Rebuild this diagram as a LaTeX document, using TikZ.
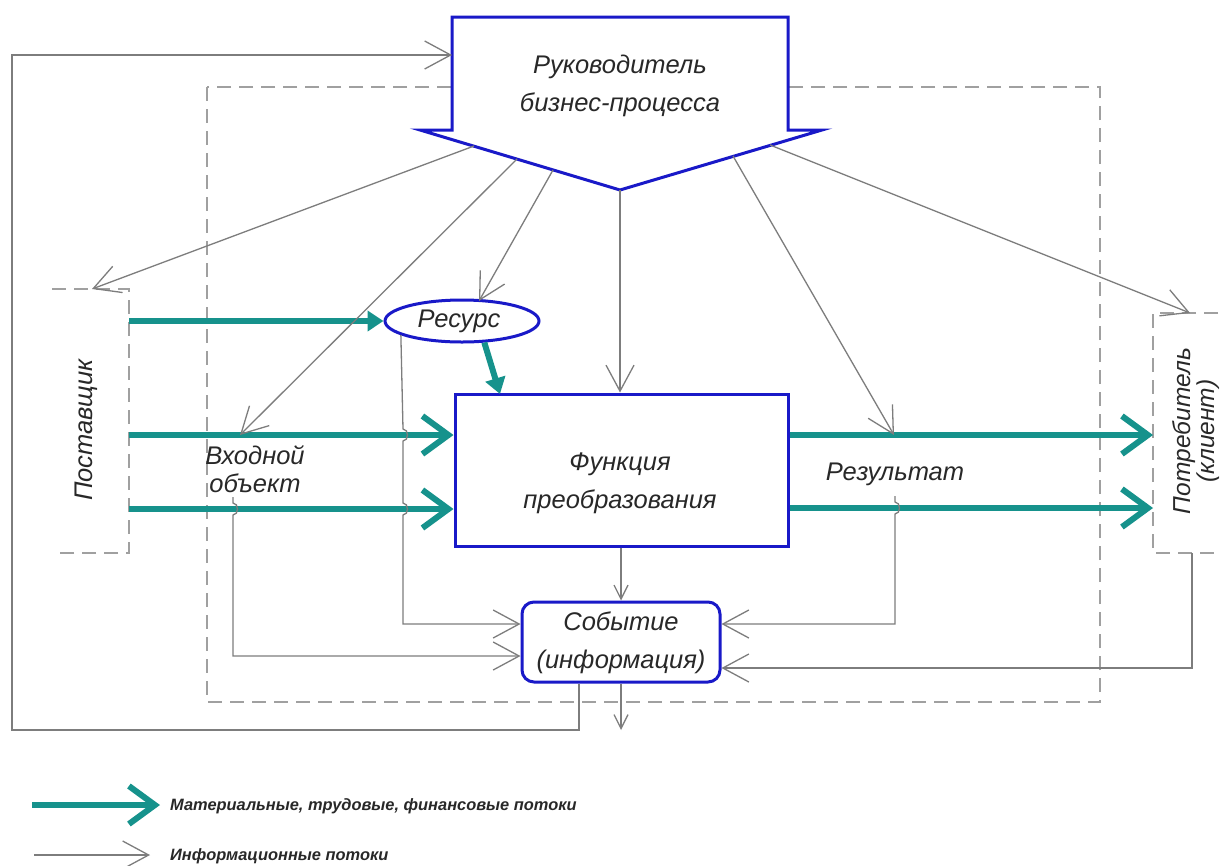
\documentclass[tikz,border=0pt]{standalone}
\usepackage{fontspec}
\setmainfont{Liberation Sans}
\usetikzlibrary{arrows.meta,shapes.geometric}
\definecolor{tealf}{RGB}{22,146,140}
\definecolor{bord}{RGB}{25,25,200}
\definecolor{info}{RGB}{125,125,125}
\definecolor{dsh}{RGB}{160,160,160}
\definecolor{ink}{RGB}{40,40,40}
\begin{document}
\begin{tikzpicture}[x=1pt,y=-1pt,
  txt/.style={font=\fontsize{25.5}{38}\selectfont\itshape, align=center, text=ink, inner sep=0pt},
  legtxt/.style={font=\fontsize{16.4}{18}\selectfont\bfseries\itshape, text=ink, anchor=west, inner sep=0pt},
  flow/.style={draw=tealf, line width=6pt, -{Straight Barb[length=26pt,width=38pt]}},
  flowsm/.style={draw=tealf, line width=6pt, -{Triangle[length=16pt,width=20pt]}},
  inf/.style={draw=info, line width=1.3pt, -{Straight Barb[length=26pt,width=28pt]}},
  infsm/.style={draw=info, line width=1.3pt, -{Straight Barb[length=14pt,width=14pt]}},
  dashbox/.style={draw=dsh, line width=1.5pt, dash pattern=on 14pt off 8pt},
  bluebox/.style={draw=bord, line width=3pt, fill=white}
]
\useasboundingbox (0,0) rectangle (1222,865);
\fill[white] (0,0) rectangle (1222,865);

% big dashed process boundary
\draw[dashbox] (207,87) rectangle (1100,702);

% supplier and consumer boxes
\draw[dashbox] (52,289) -- (129,289) -- (129,553) -- (52,553);
\draw[dashbox] (1240,313) -- (1153,313) -- (1153,553) -- (1240,553);
\node[txt, rotate=90] (sup) at (86,430) {Поставщик};
\node[txt, rotate=90, font=\fontsize{24.5}{22}\selectfont\itshape] (cons) at (1196,431) {Потребитель\\(клиент)};

% manager shape
\draw[bluebox, line join=miter] (452,17) -- (788,17) -- (788,130) -- (822,130) -- (620,190) -- (420,130) -- (452,130) -- cycle;
\node[txt] (mgr) at (620,86) {Руководитель\\бизнес-процесса};
\coordinate (mtip) at (620,190);
\coordinate (m1) at (474,146);
\coordinate (m2) at (517,159);
\coordinate (m3) at (553,170);
\coordinate (m4) at (733,156);
\coordinate (m5) at (770,145);
\coordinate (mleft) at (452,55);

% resource, function, event
\node[ellipse, draw=bord, line width=3pt, fill=white, minimum width=154pt, minimum height=42pt, inner sep=0pt] (res) at (462,321) {};
\node[txt] (restxt) at (459,321) {Ресурс};
\node[bluebox, minimum width=333pt, minimum height=152pt, inner sep=0pt] (fn) at (621.5,470) {};
\node[txt] (fntxt) at (620,483) {Функция\\преобразования};
\node[bluebox, rounded corners=12pt, minimum width=198pt, minimum height=80pt, inner sep=0pt] (ev) at (621,642) {};
\node[txt] (evtxt) at (621,643) {Событие\\(информация)};

\node[txt, font=\fontsize{25.5}{28}\selectfont\itshape] (inp) at (255,469) {Входной\\объект};
\node[txt] (out) at (895,474) {Результат};

% coordinates of free ends
\coordinate (supT) at (92,289);
\coordinate (consT) at (1190,313);
\coordinate (inpA) at (240,435);
\coordinate (outA) at (894,435);
\coordinate (resT) at (479,301);
\coordinate (fnR) at (500,394);
\coordinate (s1) at (129,321);
\coordinate (s2) at (129,435);
\coordinate (s3) at (129,509);
\coordinate (c1) at (1153,435);
\coordinate (c2) at (1153,508);

% material flows
\draw[flowsm] (s1) -- (res.west);
\draw[flowsm] (res.-44) -- (fnR);
\draw[flow] (s2) -- (s2 -| fn.west);
\draw[flow] (s3) -- (s3 -| fn.west);
\draw[flow] (c1 -| fn.east) -- (c1);
\draw[flow] (c2 -| fn.east) -- (c2);

% information flows from manager
\draw[inf] (m1) -- (supT);
\draw[inf] (m2) -- (inpA);
\draw[inf] (m3) -- (resT);
\draw[inf] (mtip) -- (mtip |- fn.north);
\draw[inf] (m4) -- (outA);
\draw[inf] (m5) -- (consT);

% information flows to event
\draw[inf] (res.193) -- (403,429) .. controls (409,429) and (409,441) .. (403,441)
  -- (403,503) .. controls (409,503) and (409,515) .. (403,515)
  -- (403,624) -- (ev.west |- 0,624);
\coordinate (inpB) at (233,497);
\draw[inf] (inpB) -- (233,503) .. controls (239,503) and (239,515) .. (233,515)
  -- (233,656) -- (ev.west |- 0,656);
\coordinate (outB) at (895,496);
\draw[inf] (outB) -- (895,502) .. controls (901,502) and (901,514) .. (895,514)
  -- (895,624) -- (ev.east |- 0,624);
\coordinate (consB) at (1192,553);
\draw[inf] (consB) -- (1192,668) -- (ev.east |- 0,668);
\draw[infsm] (fn.south -| ev.north) -- (ev.north);
\coordinate (evout) at (621,730);
\draw[infsm] (ev.south) -- (evout);
\draw[inf] (ev.south -| 579,0) -- (579,730) -- (12,730) -- (12,55) -- (mleft);

% legend
\coordinate (l1a) at (32,805);
\coordinate (l1b) at (160,805);
\coordinate (l2a) at (34,855);
\coordinate (l2b) at (150,855);
\draw[flow] (l1a) -- (l1b);
\draw[inf] (l2a) -- (l2b);
\node[legtxt] (leg1) at (170,806) {Материальные, трудовые, финансовые потоки};
\node[legtxt] (leg2) at (170,856) {Информационные потоки};
\end{tikzpicture}
\end{document}
